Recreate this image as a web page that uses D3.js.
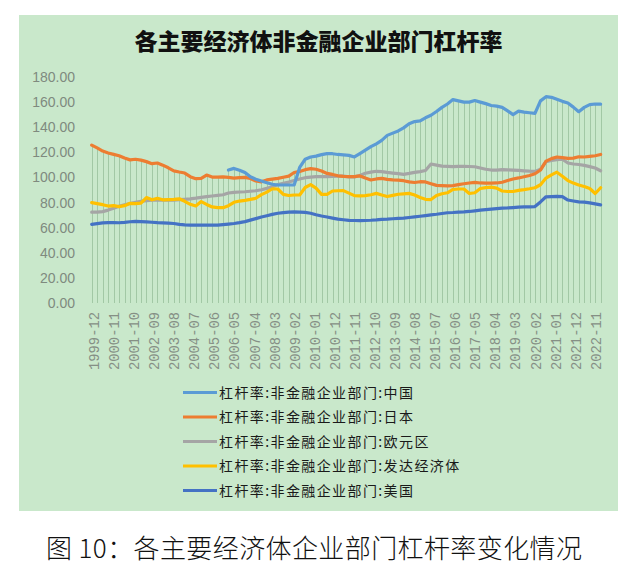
<!DOCTYPE html>
<html><head><meta charset="utf-8">
<script src="https://cdn.jsdelivr.net/npm/d3@7"></script>
<style>html,body{margin:0;padding:0;background:#fff;}svg{display:block;}</style>
</head><body>
<svg id="c" width="634" height="571"></svg>
<script>
const quarters = ["1999-12",
"2000-03","2000-06","2000-09","2000-12","2001-03","2001-06","2001-09","2001-12",
"2002-03","2002-06","2002-09","2002-12","2003-03","2003-06","2003-09","2003-12",
"2004-03","2004-06","2004-09","2004-12","2005-03","2005-06","2005-09","2005-12",
"2006-03","2006-06","2006-09","2006-12","2007-03","2007-06","2007-09","2007-12",
"2008-03","2008-06","2008-09","2008-12","2009-03","2009-06","2009-09","2009-12",
"2010-03","2010-06","2010-09","2010-12","2011-03","2011-06","2011-09","2011-12",
"2012-03","2012-06","2012-09","2012-12","2013-03","2013-06","2013-09","2013-12",
"2014-03","2014-06","2014-09","2014-12","2015-03","2015-06","2015-09","2015-12",
"2016-03","2016-06","2016-09","2016-12","2017-03","2017-06","2017-09","2017-12",
"2018-03","2018-06","2018-09","2018-12","2019-03","2019-06","2019-09","2019-12",
"2020-03","2020-06","2020-09","2020-12","2021-03","2021-06","2021-09","2021-12",
"2022-03","2022-06","2022-09","2022-12","2023-03"];

const china = [null,null,null,null,null,null,null,null,null,null,null,null,null,null,null,null,null,null,null,null,null,null,null,null,null,
105.9,107.2,105.8,104,100.5,98.6,97.2,95.8,94.6,94,94,94,94,108,114.5,116.3,117,118.2,119,118.9,118.3,118,117.6,116.3,119,121.8,124.5,126.8,129.5,133.5,135.3,137,139.5,142.8,144.5,145,147.5,149.5,152.5,155.8,158.5,162,161,160,160,161.3,160,158.8,157.3,156.8,155.8,153,150,152.8,152,151.5,151,161,164.3,163.8,162.2,160.6,159.3,156,152.4,155.8,158,158.5,158.4];

const japan = [125.8,123.5,121,119.5,118.4,117.3,115.5,114,114.5,113.8,112.6,111,111.5,109.8,107.7,105.2,104.3,103.5,100.6,99,99.2,101.9,100.3,100.2,100.5,100,99.4,99.8,100.1,99.2,97.2,96.5,98,98.6,99.3,100.2,101,103.9,104.8,106.2,107,106.5,105.1,103.2,102.4,101.3,100.8,100.6,100.6,101.2,99.5,98,98.8,99.3,98.5,98,97.8,97.4,96.5,96,96.6,96.4,95,93.7,93.5,93.3,93.5,94.3,95,95.6,96,95.6,95.4,95.5,95.6,96.2,97.5,98.8,99.6,100.6,101.6,102.9,105.9,113,115,116.3,115.8,115.2,115.4,116.5,116.3,116.8,117.3,118.3];

const euro = [72.3,72.4,72.8,74,75.4,77,78.2,79.2,80.2,81,81.6,82,82,82,82,82,82.3,82.6,83,83.5,84.1,84.7,85.2,85.7,86.2,87.6,88.1,88.4,88.6,89,89.4,90.2,91.3,92.5,94.3,95.3,96.3,97.6,98.8,99.8,100.2,100.6,100.6,100.7,100.9,101.1,101,100.4,100.5,101.5,103.3,104.2,104.9,104.6,104,103.5,103,102.5,103.2,104,104.6,105.5,110.7,109.8,109,108.8,108.6,108.8,108.9,108.7,108.5,107.5,106.5,105.9,105.9,106.2,106,105.8,105.6,105.3,105,104.8,106.5,112.5,113.5,114.2,114.5,111.5,110.7,110.3,109.6,108.6,107.5,105.3];

const advanced = [80,79.2,78.3,77.2,77.5,76.8,77.5,79.4,79.2,79.5,84,82.2,83.3,82.2,82.4,82.6,83,81,78.6,77.3,80.8,78.5,76.5,75.9,75.9,77.5,80.2,81.2,81.8,82.5,83.4,86.3,88.3,91,90.8,86.5,85.6,86,86,92,94.3,91.5,86.5,86.5,89.2,89.4,89.5,87.5,85.5,85.3,85.5,86.2,87.3,86,84.8,85.7,86.6,86.9,87.3,86,84,82.6,82.4,85.6,87,87.8,90.4,90.8,90.8,87.2,87.8,91.2,91.9,92.3,91.5,89.2,88.8,88.8,89.7,90.3,91,91.8,94.2,99.5,102,104.2,101,97.5,95.5,94,92.8,91.2,87.2,91.8];

const usa = [62.6,63.2,63.8,64,64,63.9,64.2,64.7,65,64.8,64.6,64.3,64,63.8,63.6,63.3,62.6,62.2,62.1,62,62,62,62,62,62.4,62.8,63.3,64,64.8,66,67.2,68.5,69.5,70.6,71.5,72,72.4,72.5,72.4,72.2,71.5,70.3,69.3,68.5,67.6,66.8,66.3,65.8,65.7,65.6,65.7,65.9,66.2,66.6,66.8,67.1,67.4,67.6,68.1,68.6,69.1,69.6,70.2,70.7,71.3,71.9,72.1,72.4,72.6,72.9,73.4,73.9,74.3,74.7,75.2,75.6,75.7,76,76.3,76.5,76.6,76.8,80.5,84.6,84.8,85,84.8,82,81.2,80.5,80.3,79.8,79,78.1];

const xTickLabels = ["1999-12","2000-11","2001-10","2002-09","2003-08","2004-07","2005-06","2006-05","2007-04","2008-03","2009-02","2010-01","2010-12","2011-11","2012-10","2013-09","2014-08","2015-07","2016-06","2017-05","2018-04","2019-03","2020-02","2021-01","2021-12","2022-11"];
const yTicks = [0,20,40,60,80,100,120,140,160,180];

const seriesNames = ["杠杆率:非金融企业部门:中国","杠杆率:非金融企业部门:日本","杠杆率:非金融企业部门:欧元区","杠杆率:非金融企业部门:发达经济体","杠杆率:非金融企业部门:美国"];
const seriesData = [china, japan, euro, advanced, usa];
const colors = ["#5b9bd5","#ed7d31","#a5a5a5","#ffc000","#4472c4"];

const parse = d3.timeParse("%Y-%m");
const fmt = d3.timeFormat("%Y-%m");
const dates = quarters.map(parse);

const svg = d3.select("#c");
svg.append("rect").attr("x",19).attr("y",15).attr("width",599).attr("height",496).attr("fill","#c9e8cb");

svg.append("text").attr("x",318.5).attr("y",50).attr("text-anchor","middle")
  .attr("font-family","'Noto Sans CJK SC'").attr("font-weight",900).attr("font-size",23)
  .attr("fill","#111").text("各主要经济体非金融企业部门杠杆率");

const x = d3.scaleTime().domain([dates[0], dates[dates.length-1]]).range([91.7, 600.6]);
const y = d3.scaleLinear().domain([0,180]).range([303,77]);

// drop lines
const maxVals = dates.map((d,i)=>d3.max(seriesData, s=>s[i]));
svg.append("g").selectAll("line").data(dates).join("line")
  .attr("x1",(d)=>Math.round(x(d))+0.5).attr("x2",(d)=>Math.round(x(d))+0.5)
  .attr("y1",(d,i)=>y(maxVals[i])).attr("y2",y(0))
  .attr("stroke","#a2c8a5").attr("stroke-width",1);

// y axis
const yAxis = d3.axisLeft(y).tickValues(yTicks).tickFormat(d3.format(".2f")).tickSize(0).tickPadding(0);
const gy = svg.append("g").attr("transform","translate(75,0)").call(yAxis);
gy.select(".domain").remove();
gy.selectAll("text").attr("font-family","'Liberation Sans', Arial").attr("font-size",14).attr("fill","#7f8a7f");

// x axis
const xAxis = d3.axisBottom(x).tickValues(xTickLabels.map(parse)).tickFormat(fmt).tickSize(0);
const gx = svg.append("g").attr("transform",`translate(0,${y(0)})`).call(xAxis);
gx.select(".domain").remove();
gx.selectAll("text").attr("font-family","'Liberation Mono', monospace").attr("font-size",13.8).attr("fill","#858f85")
  .attr("text-anchor","end").attr("transform","translate(2,9) rotate(-90)").attr("x",0).attr("y",0).attr("dy","0.35em");

// lines
const line = d3.line().defined(d=>d.v!=null).x(d=>x(d.d)).y(d=>y(d.v));
const drawOrder = [2,3,4,1,0];
drawOrder.forEach(k=>{
  svg.append("path").datum(dates.map((d,i)=>({d:d,v:seriesData[k][i]})))
    .attr("d",line).attr("fill","none").attr("stroke",colors[k]).attr("stroke-width",3.2)
    .attr("stroke-linejoin","round").attr("stroke-linecap","round");
});

// legend
const lg = svg.append("g");
seriesNames.forEach((n,i)=>{
  const yy = 392.5 + i*24.5;
  lg.append("line").attr("x1",183).attr("x2",217).attr("y1",yy).attr("y2",yy).attr("stroke",colors[i]).attr("stroke-width",3);
  lg.append("text").attr("x",219).attr("y",yy).attr("dy","0.36em")
    .attr("font-family","'Noto Sans CJK SC'").attr("font-size",14).attr("letter-spacing","1.4px")
    .attr("fill","#1a1a1a").text(n);
});

// caption
svg.append("text").attr("x",46).attr("y",558)
  .attr("font-family","'Noto Sans CJK SC'").attr("font-size",26).attr("font-weight",300).attr("letter-spacing","0.4px")
  .attr("fill","#111").text("图 10：各主要经济体企业部门杠杆率变化情况");
</script>
</body></html>
